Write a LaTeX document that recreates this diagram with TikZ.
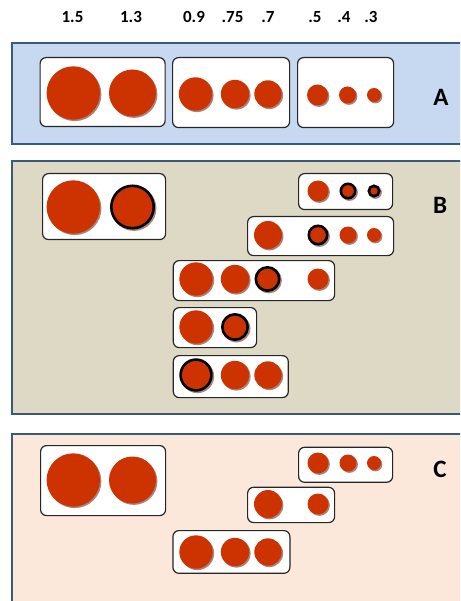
\documentclass[tikz,border=0pt]{standalone}
\usepackage{fontspec}
\setmainfont{Carlito}

\definecolor{panelA}{HTML}{C6D9F1}
\definecolor{panelB}{HTML}{DDD9C4}
\definecolor{panelC}{HTML}{FCE8DA}
\definecolor{panelEdge}{HTML}{3A5A7C}
\definecolor{ballRed}{HTML}{CC3300}
\definecolor{ballShade}{HTML}{A8847C}

\tikzset{
  panel/.style={rectangle, draw=panelEdge, line width=2pt, anchor=north west, inner sep=0pt},
  tray/.style={rectangle, draw=black!85, line width=1.2pt, fill=white, rounded corners=6pt,
               anchor=north west, inner sep=0pt},
  ball/.style={circle, fill=ballRed, inner sep=0pt, draw=none},
  shade/.style={circle, fill=ballShade, inner sep=0pt, draw=none},
  ring/.style={draw=black, line width=2.6pt},
  head/.style={font=\bfseries\fontsize{17}{17}\selectfont},
  tag/.style={font=\bfseries\fontsize{25}{25}\selectfont},
}

% plain ball: name, x, y, radius
\newcommand{\plainball}[4]{%
  \node[shade, minimum size={2*#4pt}] (#1s) at (#2+1.4,#3+1.4) {};
  \node[ball, minimum size={2*#4pt}] (#1) at (#2,#3) {};}
% ball with a black rim: name, x, y, outer radius
\newcommand{\ringball}[4]{%
  \node[shade, minimum size={2*#4pt}] (#1s) at (#2+1.4,#3+1.4) {};
  \node[ball, ring, minimum size={2*#4pt-2.6pt}] (#1) at (#2,#3) {};}

\begin{document}
\begin{tikzpicture}[x=1pt,y=-1pt]
\useasboundingbox (0,0) rectangle (460,601);
\clip (0,0) rectangle (460,601);
\fill[white] (0,0) rectangle (460,601);

% column headings
\node[head] (h15) at (72.5,17) {1.5};
\node[head] (h13) at (131,17) {1.3};
\node[head] (h09) at (194,17) {0.9};
\node[head] (h075) at (232.5,17) {.75};
\node[head] (h07) at (268,17) {.7};
\node[head] (h05) at (315,17) {.5};
\node[head] (h04) at (344,17) {.4};
\node[head] (h03) at (371,17) {.3};

% ---------- panel A ----------
\node[panel, fill=panelA, minimum width=459pt, minimum height=101pt] (pA) at (11,42) {};
\node[tag] (tA) at (441,97) {A};
\node[tray, minimum width=125pt, minimum height=69pt] (a1) at (39.5,57) {};
\node[tray, minimum width=117pt, minimum height=70pt] (a2) at (172,57) {};
\node[tray, minimum width=96pt, minimum height=70pt] (a3) at (297,57) {};
\plainball{aa}{73.3}{93}{26.7}
\plainball{ab}{132.5}{93}{23.5}
\plainball{ac}{195.5}{94}{16.7}
\plainball{ad}{235}{94}{14.2}
\plainball{ae}{268}{94}{13.7}
\plainball{af}{317.5}{95}{10.5}
\plainball{ag}{347.5}{95}{8.5}
\plainball{ah}{374}{95}{7}

% ---------- panel B ----------
\node[panel, fill=panelB, minimum width=459pt, minimum height=252.5pt] (pB) at (11,160) {};
\node[tag] (tB) at (440,205) {B};
\node[tray, minimum width=123pt, minimum height=66pt] (b1) at (42,173) {};
\plainball{ba}{73.3}{207}{26.7}
\ringball{bb}{132.5}{207}{22.5}

\node[tray, minimum width=94pt, minimum height=36pt] (b2) at (298,173) {};
\plainball{bc}{318}{191}{10.5}
\ringball{bd}{348}{191}{8.5}
\ringball{be}{374}{191}{6.5}

\node[tray, minimum width=146pt, minimum height=39pt] (b3) at (247,216) {};
\plainball{bf}{268}{235}{14}
\ringball{bg}{318}{235}{10.5}
\plainball{bh}{348}{235}{8.5}
\plainball{bi}{374}{235}{7}

\node[tray, minimum width=161.3pt, minimum height=40pt] (b4) at (172.7,260) {};
\plainball{bj}{196}{279}{16.7}
\plainball{bk}{235}{279}{14.2}
\ringball{bl}{267.5}{279}{13}
\plainball{bm}{318}{279}{10.5}

\node[tray, minimum width=83.3pt, minimum height=40pt] (b5) at (172.7,307) {};
\plainball{bn}{196}{327}{16.7}
\ringball{bo}{235}{327}{14}

\node[tray, minimum width=115pt, minimum height=42pt] (b6) at (172.7,355) {};
\ringball{bp}{196}{375}{16.7}
\plainball{bq}{235}{375}{14.2}
\plainball{br}{268}{375}{13.7}

% ---------- panel C ----------
\node[panel, fill=panelC, minimum width=459pt, minimum height=185pt] (pC) at (11,432.7) {};
\node[tag] (tC) at (440,469) {C};
\node[tray, minimum width=125pt, minimum height=70pt] (c1) at (40,445) {};
\plainball{ca}{73.3}{480}{26.7}
\plainball{cb}{132.5}{480}{23.5}

\node[tray, minimum width=94pt, minimum height=35pt] (c2) at (298,446.7) {};
\plainball{cc}{318}{463}{10.5}
\plainball{cd}{348}{463}{8.5}
\plainball{ce}{374}{463}{7}

\node[tray, minimum width=87pt, minimum height=35.3pt] (c3) at (247,486.7) {};
\plainball{cf}{268}{504}{14}
\plainball{cg}{318}{504}{10.5}

\node[tray, minimum width=117pt, minimum height=42.7pt] (c4) at (172.3,530) {};
\plainball{ch}{196}{552}{16.7}
\plainball{ci}{235}{552}{14.2}
\plainball{cj}{268}{552}{13.7}
\end{tikzpicture}
\end{document}
